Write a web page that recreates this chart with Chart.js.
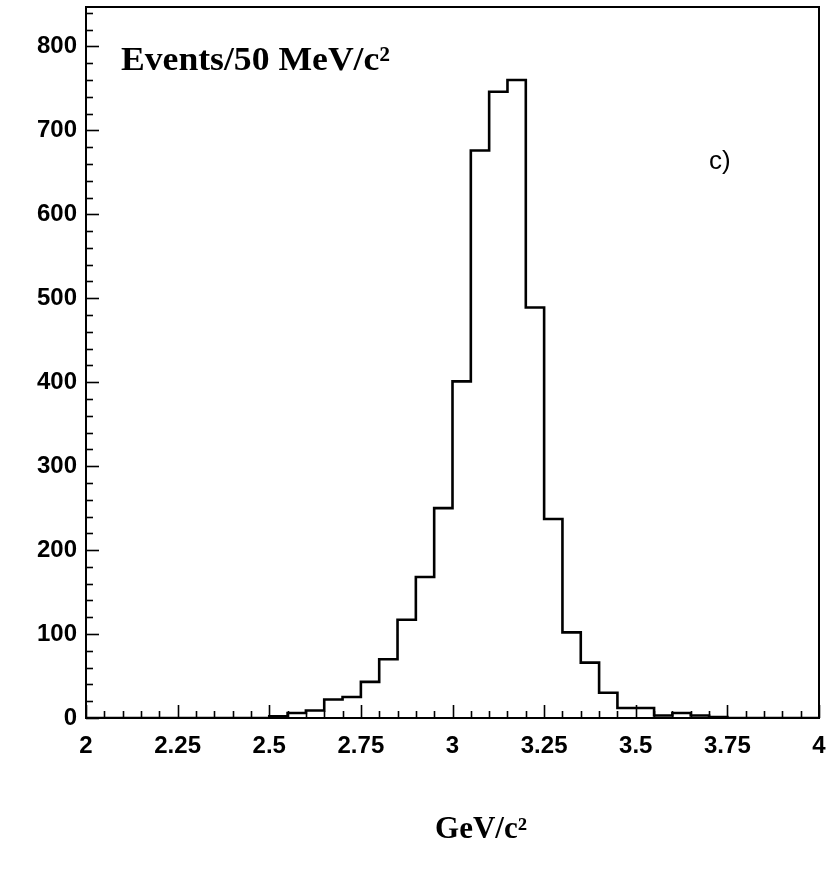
<!DOCTYPE html>
<html>
<head>
<meta charset="utf-8">
<script src="https://cdn.jsdelivr.net/npm/chart.js@4/dist/chart.umd.min.js"></script>
<style>
  html, body { margin: 0; padding: 0; background: #fff; }
  #wrap { width: 831px; height: 876px; }
</style>
</head>
<body>
<div id="wrap"><canvas id="c" width="831" height="876"></canvas></div>
<script>
// ---- data ----
const binLowEdges = [2.00, 2.05, 2.10, 2.15, 2.20, 2.25, 2.30, 2.35, 2.40, 2.45,
                     2.50, 2.55, 2.60, 2.65, 2.70, 2.75, 2.80, 2.85, 2.90, 2.95,
                     3.00, 3.05, 3.10, 3.15, 3.20, 3.25, 3.30, 3.35, 3.40, 3.45,
                     3.50, 3.55, 3.60, 3.65, 3.70, 3.75, 3.80, 3.85, 3.90, 3.95];
const binHighEnd = 4.00;
const counts = [0, 0, 0, 0, 0, 0, 0, 0, 0, 0,
                2, 6, 9, 22, 25, 43, 70, 117, 168, 250,
                401, 676, 746, 760, 489, 237, 102, 66, 30, 12,
                12, 3, 6, 3, 1, 0, 0, 0, 0, 0];
const xTickValues = [2, 2.25, 2.5, 2.75, 3, 3.25, 3.5, 3.75, 4];
const xTickLabels = ['2', '2.25', '2.5', '2.75', '3', '3.25', '3.5', '3.75', '4'];
const yTickValues = [0, 100, 200, 300, 400, 500, 600, 700, 800];
const yTickLabels = ['0', '100', '200', '300', '400', '500', '600', '700', '800'];
const xMinorStep = 0.05;
const yMinorStep = 20;
const yAxisLabel = 'Events/50 MeV/c\u00B2';
const xAxisLabel = 'GeV/c\u00B2';
const panelLabel = 'c)';

// step points for histogram outline
const points = binLowEdges.map((x, i) => ({ x: x, y: counts[i] }));
points.push({ x: binHighEnd, y: 0 });

const framePlugin = {
  id: 'frame',
  afterDraw(chart) {
    const { ctx, chartArea: a, scales } = chart;
    const xs = scales.x, ys = scales.y;
    ctx.save();
    ctx.strokeStyle = '#000';
    ctx.lineWidth = 2;
    ctx.strokeRect(a.left, a.top, a.right - a.left, a.bottom - a.top);
    // x ticks (inward from bottom)
    ctx.lineWidth = 1.6;
    const xmin = xs.min, xmax = xs.max;
    const nx = Math.round((xmax - xmin) / xMinorStep);
    for (let i = 0; i <= nx; i++) {
      const v = xmin + i * xMinorStep;
      const major = xTickValues.some(t => Math.abs(t - v) < 1e-6);
      const px = Math.round(xs.getPixelForValue(v)) + 0.5;
      const len = major ? 13 : 7;
      ctx.beginPath();
      ctx.moveTo(px, a.bottom);
      ctx.lineTo(px, a.bottom - len);
      ctx.stroke();
    }
    // y ticks (inward from left)
    const ny = Math.floor(ys.max / yMinorStep);
    for (let i = 0; i <= ny; i++) {
      const v = i * yMinorStep;
      const major = yTickValues.includes(v);
      const py = Math.round(ys.getPixelForValue(v)) + 0.5;
      const len = major ? 13 : 7;
      ctx.beginPath();
      ctx.moveTo(a.left, py);
      ctx.lineTo(a.left + len, py);
      ctx.stroke();
    }
    // texts
    ctx.fillStyle = '#000';
    ctx.textBaseline = 'alphabetic';
    ctx.textAlign = 'left';
    ctx.save();
    ctx.scale(1.08, 1);
    ctx.font = 'bold 33px "Liberation Serif", "Times New Roman", serif';
    ctx.fillText(yAxisLabel, 121 / 1.08, 70);
    ctx.restore();
    ctx.font = '26px "Liberation Sans", Arial, sans-serif';
    ctx.fillText(panelLabel, 709, 169);
    ctx.textAlign = 'center';
    ctx.font = 'bold 31px "Liberation Serif", "Times New Roman", serif';
    ctx.fillText(xAxisLabel, 481, 838);
    ctx.restore();
  }
};

new Chart(document.getElementById('c'), {
  type: 'line',
  data: {
    datasets: [{
      data: points,
      stepped: 'before',
      borderColor: '#000',
      borderWidth: 2.6,
      pointRadius: 0,
      fill: false,
      tension: 0
    }]
  },
  options: {
    responsive: false,
    devicePixelRatio: 1,
    animation: false,
    layout: { padding: { left: 0, right: 12, top: 7, bottom: 0 } },
    plugins: { legend: { display: false }, tooltip: { enabled: false } },
    scales: {
      x: {
        type: 'linear',
        min: 2, max: 4,
        grid: { display: false, drawTicks: false },
        border: { display: false },
        afterFit(s) { s.height = 158; s.paddingLeft = 0; s.paddingRight = 0; },
        afterBuildTicks(s) { s.ticks = xTickValues.map(v => ({ value: v })); },
        ticks: {
          padding: 14,
          maxRotation: 0,
          autoSkip: false,
          color: '#000',
          font: { family: '"Liberation Sans", Arial, sans-serif', size: 24, weight: 'bold' },
          callback: (v) => xTickLabels[xTickValues.indexOf(v)]
        }
      },
      y: {
        type: 'linear',
        min: 0, max: 847,
        grid: { display: false, drawTicks: false },
        border: { display: false },
        afterFit(s) { s.width = 86; s.paddingTop = 0; s.paddingBottom = 0; },
        afterBuildTicks(s) { s.ticks = yTickValues.map(v => ({ value: v })); },
        ticks: {
          padding: 9,
          autoSkip: false,
          color: '#000',
          font: { family: '"Liberation Sans", Arial, sans-serif', size: 24, weight: 'bold' },
          callback: (v) => yTickLabels[yTickValues.indexOf(v)]
        }
      }
    }
  },
  plugins: [framePlugin]
});
</script>
</body>
</html>
